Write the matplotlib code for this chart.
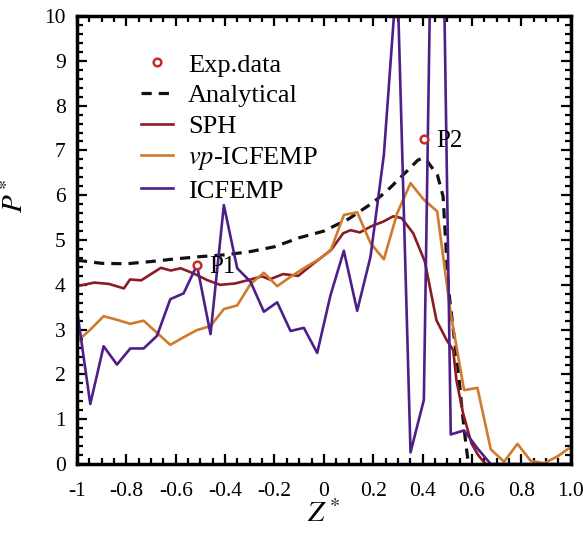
import numpy as np
import matplotlib
matplotlib.use('Agg')
import matplotlib.pyplot as plt
from matplotlib.ticker import FixedLocator, FixedFormatter, MultipleLocator

plt.rcParams['font.family'] = ['Liberation Serif', 'DejaVu Serif']
plt.rcParams['mathtext.fontset'] = 'stix'
plt.rcParams['axes.unicode_minus'] = False

# sample grid shared by the two ICFEMP runs
z_grid = [-1.000, -0.946, -0.892, -0.838, -0.784, -0.730, -0.676, -0.622,
          -0.568, -0.514, -0.459, -0.405, -0.351, -0.297, -0.243, -0.189,
          -0.135, -0.081, -0.027, 0.027, 0.081, 0.135, 0.189, 0.243,
          0.297, 0.351, 0.405, 0.459, 0.514, 0.568, 0.622, 0.676,
          0.730, 0.784, 0.838, 0.892, 0.946, 1.000]

p_icfemp = [3.44, 1.34, 2.63, 2.22, 2.58, 2.58, 2.86, 3.68,
            3.81, 4.44, 2.90, 5.78, 4.37, 4.07, 3.40, 3.61,
            2.97, 3.04, 2.48, 3.77, 4.76, 3.42, 4.63, 6.90,
            11.0, 0.26, 1.43, 21.0, 0.66, 0.75, 0.35, 0.0,
            0.0, 0.0, 0.0, 0.0, 0.0, 0.0]

p_vp = [2.73, 3.00, 3.30, 3.22, 3.13, 3.20, 2.93, 2.66,
        2.83, 2.99, 3.08, 3.46, 3.54, 4.02, 4.27, 3.97,
        4.18, 4.37, 4.55, 4.76, 5.56, 5.62, 4.93, 4.57,
        5.60, 6.27, 5.90, 5.64, 3.35, 1.65, 1.70, 0.33,
        0.05, 0.45, 0.07, 0.02, 0.17, 0.38]

z_sph = [-1.0, -0.93, -0.87, -0.81, -0.785, -0.74, -0.66, -0.62, -0.58, -0.53,
         -0.47, -0.42, -0.36, -0.31, -0.25, -0.22, -0.165, -0.104, -0.05, 0.004,
         0.031, 0.078, 0.108, 0.146, 0.193, 0.24, 0.281, 0.315, 0.362, 0.409,
         0.456, 0.497, 0.524, 0.537, 0.564, 0.598, 0.625, 0.652, 0.66]
p_sph = [3.97, 4.05, 4.02, 3.92, 4.12, 4.10, 4.38, 4.32, 4.37, 4.26,
         4.10, 4.00, 4.03, 4.10, 4.19, 4.12, 4.24, 4.20, 4.44, 4.67,
         4.79, 5.15, 5.22, 5.17, 5.31, 5.41, 5.53, 5.49, 5.15, 4.52,
         3.21, 2.77, 2.54, 1.87, 1.13, 0.46, 0.20, 0.02, 0.0]

z_ana = [-1.0, -0.9, -0.8, -0.7, -0.6, -0.5, -0.4, -0.3, -0.2, -0.1,
         0.0, 0.1, 0.2, 0.26, 0.335, 0.38, 0.40, 0.42, 0.46, 0.483,
         0.494, 0.504, 0.524, 0.544, 0.560, 0.572, 0.582, 0.59]
p_ana = [4.55, 4.48, 4.47, 4.52, 4.58, 4.63, 4.67, 4.74, 4.85, 5.05,
         5.20, 5.47, 5.84, 6.12, 6.53, 6.78, 6.83, 6.75, 6.45, 5.97,
         4.90, 3.95, 3.00, 2.10, 1.20, 0.60, 0.15, 0.0]

z_exp = [-0.515, 0.406]
p_exp = [4.44, 7.25]
exp_names = ['P1', 'P2']

xtick_vals = [-1, -0.8, -0.6, -0.4, -0.2, 0, 0.2, 0.4, 0.6, 0.8, 1.0]
xtick_text = ['-1', '-0.8', '-0.6', '-0.4', '-0.2', '0', '0.2', '0.4', '0.6', '0.8', '1.0']

c_sph = '#8c1c24'
c_vp = '#d07a2c'
c_ic = '#4e1f88'
c_exp = '#c42a30'

fig = plt.figure(figsize=(5.83, 5.34), dpi=100)
ax = fig.add_axes([0.132, 0.131, 0.847, 0.839])

h_ana, = ax.plot(z_ana, p_ana, '--', color='#111111', lw=2.3, dashes=(3.2, 2.2), label='Analytical')
h_sph, = ax.plot(z_sph, p_sph, '-', color=c_sph, lw=1.9, label='SPH')
h_vp, = ax.plot(z_grid, p_vp, '-', color=c_vp, lw=1.9, label=r'$vp$-ICFEMP')
h_ic, = ax.plot(z_grid, p_icfemp, '-', color=c_ic, lw=1.9, label='ICFEMP')
h_exp, = ax.plot(z_exp, p_exp, 'o', ms=5.5, mfc='white', mec=c_exp, mew=1.8,
                 linestyle='none', label='Exp.data', zorder=5)

for zx, px, name in zip(z_exp, p_exp, exp_names):
    ax.text(zx + 0.05, px - 0.05, name, fontsize=18, va='center', ha='left')

ax.set_xlim(-1, 1)
ax.set_ylim(0, 10)
ax.xaxis.set_major_locator(FixedLocator(xtick_vals))
ax.xaxis.set_major_formatter(FixedFormatter(xtick_text))
ax.xaxis.set_minor_locator(MultipleLocator(0.05))
ax.yaxis.set_major_locator(MultipleLocator(1))
ax.yaxis.set_minor_locator(MultipleLocator(0.2))
ax.tick_params(which='both', direction='in', top=True, right=True, width=1.6, labelsize=15.5)
ax.tick_params(which='major', length=7)
ax.tick_params(which='minor', length=4)
ax.tick_params(axis='x', which='major', pad=13)
ax.tick_params(axis='y', which='major', pad=8)
for s in ax.spines.values():
    s.set_linewidth(2.5)

ax.set_xlabel(r'$Z^*$', fontsize=21)
ax.set_ylabel(r'$P^*$', fontsize=21)
ax.xaxis.set_label_coords(0.5, -0.08)
ax.yaxis.set_label_coords(-0.097, 0.6)

ax.legend(handles=[h_exp, h_ana, h_sph, h_vp, h_ic], loc='upper left',
          bbox_to_anchor=(0.13, 0.917), frameon=False, fontsize=19,
          handlelength=1.2, handletextpad=0.57, labelspacing=0.27,
          borderpad=0, borderaxespad=0)

fig.savefig('out.png', dpi=100)
